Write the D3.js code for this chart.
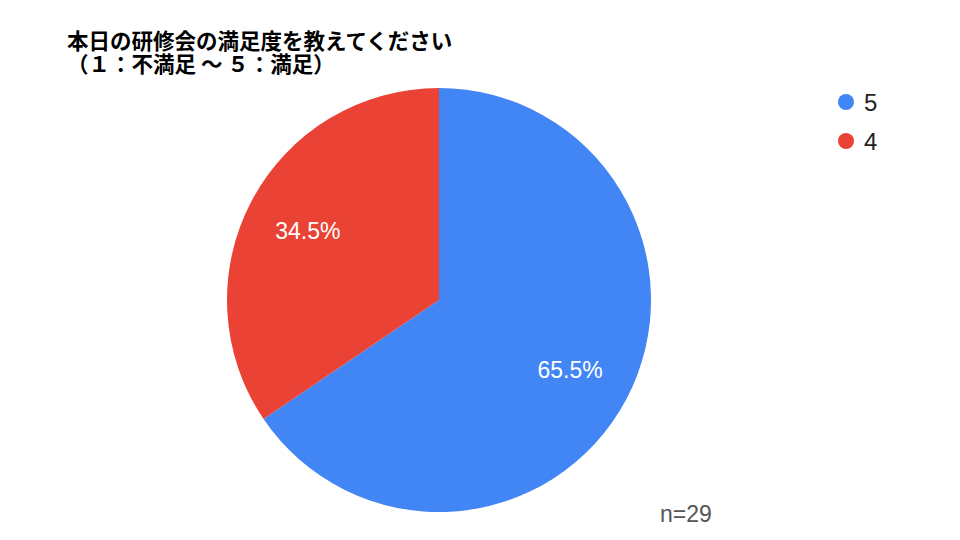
<!DOCTYPE html>
<html>
<head>
<meta charset="utf-8">
<script src="https://cdn.jsdelivr.net/npm/d3@7"></script>
<style>
  body { margin: 0; background: #fff; }
  text { font-family: Arial, "Liberation Sans", sans-serif; }
</style>
</head>
<body>
<div id="chart"></div>
<script>
const titleLines = ["本日の研修会の満足度を教えてください", "（１：不満足 〜 ５：満足）"];
const categories = ["5", "4"];
const counts = [19, 10];
const colors = ["#4285f4", "#ea4335"];
const noteText = "n=29";

const width = 960;
const height = 540;
const cx = 439, cy = 300, radius = 212;

const svg = d3.select("#chart")
  .append("svg")
  .attr("width", width)
  .attr("height", height);

// title
svg.append("g")
  .selectAll("text")
  .data(titleLines)
  .join("text")
  .attr("x", 67)
  .attr("y", (d, i) => 49 + i * 23)
  .style("font-family", "'Noto Sans CJK JP', sans-serif")
  .style("font-weight", "bold")
  .style("font-size", "21.5px")
  .style("fill", "#000")
  .text(d => d);

const total = d3.sum(counts);
const data = categories.map((c, i) => ({ cat: c, value: counts[i], color: colors[i] }));

const pie = d3.pie().value(d => d.value).sort(null);
const arc = d3.arc().innerRadius(0).outerRadius(radius);
const labelArc = d3.arc().innerRadius(radius * 0.7).outerRadius(radius * 0.7);

const g = svg.append("g").attr("transform", `translate(${cx},${cy})`);

const arcs = pie(data);

g.selectAll("path")
  .data(arcs)
  .join("path")
  .attr("d", arc)
  .attr("fill", d => d.data.color);

g.selectAll("text.lbl")
  .data(arcs)
  .join("text")
  .attr("class", "lbl")
  .attr("transform", d => `translate(${labelArc.centroid(d)})`)
  .attr("dy", "0.36em")
  .style("text-anchor", "middle")
  .style("font-size", "23px")
  .style("fill", "#fff")
  .text(d => (d.data.value / total * 100).toFixed(1) + "%");

// legend
const legend = svg.append("g")
  .selectAll("g")
  .data(data)
  .join("g")
  .attr("transform", (d, i) => `translate(846,${102 + i * 39})`);

legend.append("circle")
  .attr("r", 8)
  .attr("fill", d => d.color);

legend.append("text")
  .attr("x", 18)
  .attr("dy", "0.36em")
  .style("font-size", "24px")
  .style("fill", "#222")
  .text(d => d.cat);

// note
svg.append("text")
  .attr("x", 660)
  .attr("y", 522)
  .style("font-size", "23px")
  .style("fill", "#555")
  .text(noteText);
</script>
</body>
</html>
